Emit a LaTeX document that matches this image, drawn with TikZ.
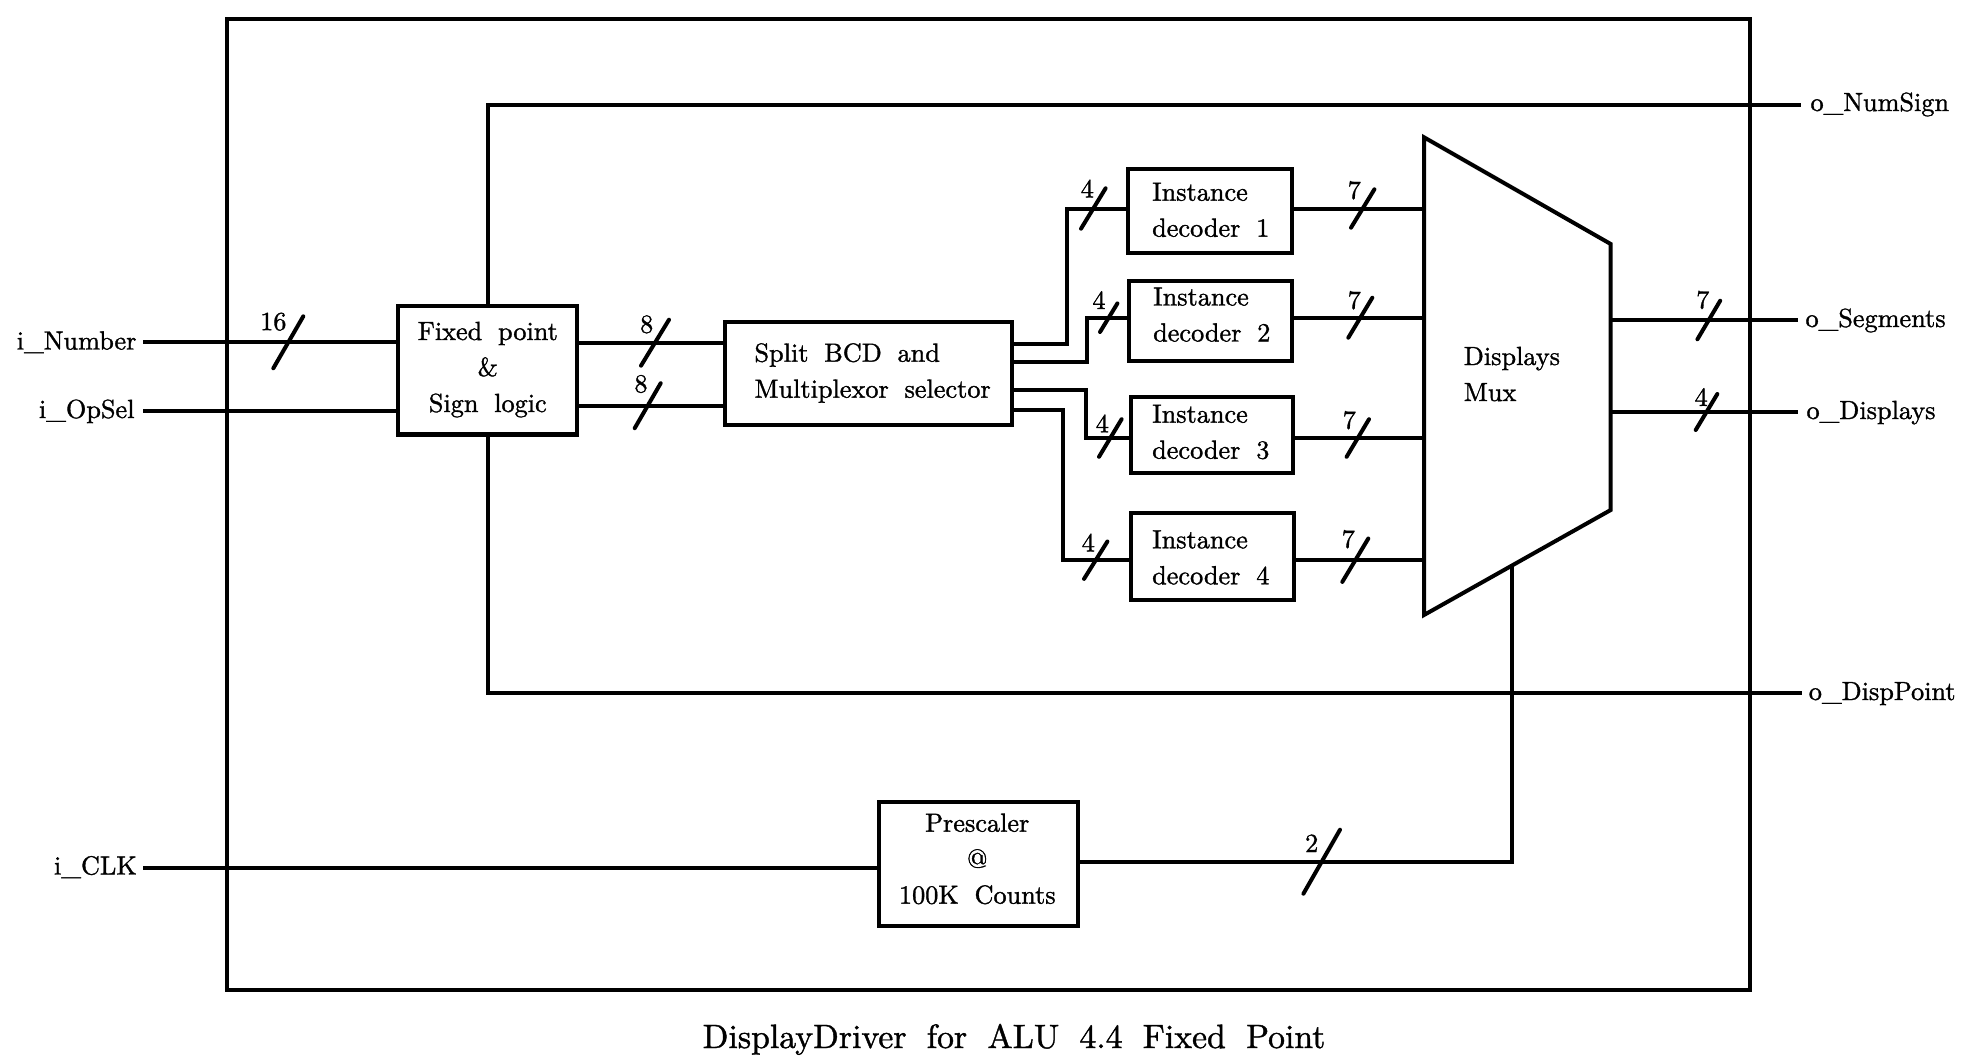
\documentclass[tikz,border=0pt]{standalone}
\usepackage{fontspec}
\setmainfont{lmroman10-regular.otf}[FakeBold=1.2]
\usetikzlibrary{fit,calc}
\newcommand\diagfont{\fontsize{10.5}{14.4}\selectfont\spaceskip0.6em\relax}
\newcommand\capfont{\fontsize{13.5}{16}\selectfont\spaceskip0.6em\relax}
\newcommand\leftblock[1]{\begin{tabular}[t]{@{}l@{}}#1\end{tabular}}
\newcommand\centerblock[1]{\begin{tabular}[t]{@{}c@{}}#1\end{tabular}}
\tikzset{
  wire/.style={line width=1.6pt},
  box/.style={draw, line width=1.7pt, inner sep=0pt},
  txt/.style={font=\diagfont},
  ltext/.style={anchor=base west, inner sep=0pt},
  ctext/.style={anchor=base, inner sep=0pt},
  pics/bus/.style n args={5}{code={
    \draw[line width=1.6pt, line cap=round] (-#1,#2) -- (#1,-#2);
    \node[inner sep=0pt] (-lab) at (#4,#5) {#3};
  }},
}
\begin{document}
\begin{tikzpicture}[x=0.4pt,y=-0.4pt, every node/.append style={txt}]
\useasboundingbox (0,0) rectangle (1974,1060);

% outer frame
\node[box, fit={(226.7,19) (1750,990)}] (outer) {};

% blocks
\node[box, fit={(398.3,306) (577.3,434.5)}] (fx) {};
\node[box, fit={(725,321.7) (1012.3,425)}] (sp) {};
\node[box, fit={(1127.7,169.3) (1291.7,252.7)}] (d1) {};
\node[box, fit={(1129,281) (1292.3,360.7)}] (d2) {};
\node[box, fit={(1131,396.7) (1293.3,473.3)}] (d3) {};
\node[box, fit={(1131,513.3) (1294,600)}] (d4) {};
\node[box, fit={(879,801.7) (1078.3,925.7)}] (ps) {};

% block texts
\node[ctext] (fxt) at (487.8,340) {\centerblock{Fixed point\\\&\\Sign logic}};
\node[ltext] (spt) at (754,361.7) {\leftblock{Split BCD and\\Multiplexor selector}};
\node[ltext] (d1t) at (1151.7,200.7) {\leftblock{Instance\\decoder 1}};
\node[ltext] (d2t) at (1152.7,305.5) {\leftblock{Instance\\decoder 2}};
\node[ltext] (d3t) at (1151.7,422.7) {\leftblock{Instance\\decoder 3}};
\node[ltext] (d4t) at (1151.7,548.3) {\leftblock{Instance\\decoder 4}};
\node[ctext] (pst) at (977.3,831.7) {\centerblock{Prescaler\\@\\100K Counts}};

% mux trapezoid
\coordinate (mtl) at (1424,137.3);
\coordinate (mtr) at (1610.7,244);
\coordinate (mbr) at (1610.7,510);
\coordinate (mbl) at (1424,615);
\draw[wire] (mtl) -- (mtr) -- (mbr) -- (mbl) -- cycle;
\node[ltext] (muxt) at (1463.3,365) {\leftblock{Displays\\Mux}};

% ports
\coordinate (pN) at (143.3,342.3);
\coordinate (pO) at (143.3,410.7);
\coordinate (pC) at (143.3,867.7);
\node[anchor=base east, inner sep=0pt] (lN) at (137,349.5) {i\_Number};
\node[anchor=base east, inner sep=0pt] (lO) at (135,418) {i\_OpSel};
\node[anchor=base east, inner sep=0pt] (lC) at (137.3,874.5) {i\_CLK};

\coordinate (oNS) at (1800.5,104.5);
\coordinate (oSeg) at (1798,320);
\coordinate (oDis) at (1798,412);
\coordinate (oDP) at (1801.7,693.3);
\node[ltext] (lNS) at (1810,111) {o\_NumSign};
\node[ltext] (lSeg) at (1805,327) {o\_Segments};
\node[ltext] (lDis) at (1806,419) {o\_Displays};
\node[ltext] (lDP) at (1808.3,700) {o\_DispPoint};

% input wires
\draw[wire] (pN) -- (pN -| fx.west);
\draw[wire] (pO) -- (pO -| fx.west);
\draw[wire] (pC) -- (pC -| ps.west);

% fixed point -> split
\draw[wire] (fx.east |- 0,342.7) -- (sp.west |- 0,342.7);
\draw[wire] (fx.east |- 0,405.7) -- (sp.west |- 0,405.7);

% sign and point
\draw[wire] (fx.north) |- (oNS);
\draw[wire] (fx.south) |- (oDP);

% split -> decoders
\draw[wire] (sp.east |- 0,344) -- (1066.7,344) |- (d1.west |- 0,208.5);
\draw[wire] (sp.east |- 0,362.3) -- (1087.3,362.3) |- (d2.west |- 0,317.7);
\draw[wire] (sp.east |- 0,390) -- (1086,390) |- (d3.west |- 0,438);
\draw[wire] (sp.east |- 0,410) -- (1063.3,410) |- (d4.west |- 0,560.2);

% decoders -> mux
\draw[wire] (d1.east |- 0,208.5) -- (mtl |- 0,208.5);
\draw[wire] (d2.east |- 0,317.7) -- (mtl |- 0,317.7);
\draw[wire] (d3.east |- 0,438) -- (mtl |- 0,438);
\draw[wire] (d4.east |- 0,560.2) -- (mtl |- 0,560.2);

% mux -> outputs
\draw[wire] (mtr |- oSeg) -- (oSeg);
\draw[wire] (mtr |- oDis) -- (oDis);

% prescaler -> mux
\coordinate (mb) at ($(mbl)!0.4697!(mbr)$);
\draw[wire] (mb) |- (ps.east |- 0,861.7);

% bus width marks
\pic (s16) at (288.3,342.3) {bus={15}{26}{16}{-15}{-20.6}};
\pic (s8a) at (655,342.7) {bus={14}{23}{8}{-8.3}{-18.3}};
\pic (s8b) at (647.7,405.7) {bus={13}{22.5}{8}{-6.7}{-21.7}};
\pic (si1) at (1093.3,208.5) {bus={12.3}{20.2}{4}{-6}{-20}};
\pic (si2) at (1108.7,317.7) {bus={8.7}{14.3}{4}{-9.7}{-17.6}};
\pic (si3) at (1110.3,438) {bus={11.3}{18.8}{4}{-8}{-14.6}};
\pic (si4) at (1095.7,560.2) {bus={11.7}{18.7}{4}{-7.4}{-17.7}};
\pic (so1) at (1362.7,208.5) {bus={11.7}{19.2}{7}{-8.4}{-18.2}};
\pic (so2) at (1360.3,317.7) {bus={12}{20}{7}{-6}{-17.4}};
\pic (so3) at (1357.8,438) {bus={11.2}{18.8}{7}{-8.5}{-17.8}};
\pic (so4) at (1355.3,560.2) {bus={13}{21.7}{7}{-7}{-21}};
\pic (sseg) at (1708.8,320) {bus={11.4}{19.3}{7}{-6}{-20}};
\pic (sdis) at (1706.5,412) {bus={10.8}{18}{4}{-5.3}{-15}};
\pic (sps) at (1321.7,861.7) {bus={18.3}{32}{2}{-10}{-18.4}};

% caption
\node[anchor=base, inner sep=0pt, font=\capfont] (cap) at (1014,1048) {DisplayDriver for ALU 4.4 Fixed Point};
\end{tikzpicture}
\end{document}
